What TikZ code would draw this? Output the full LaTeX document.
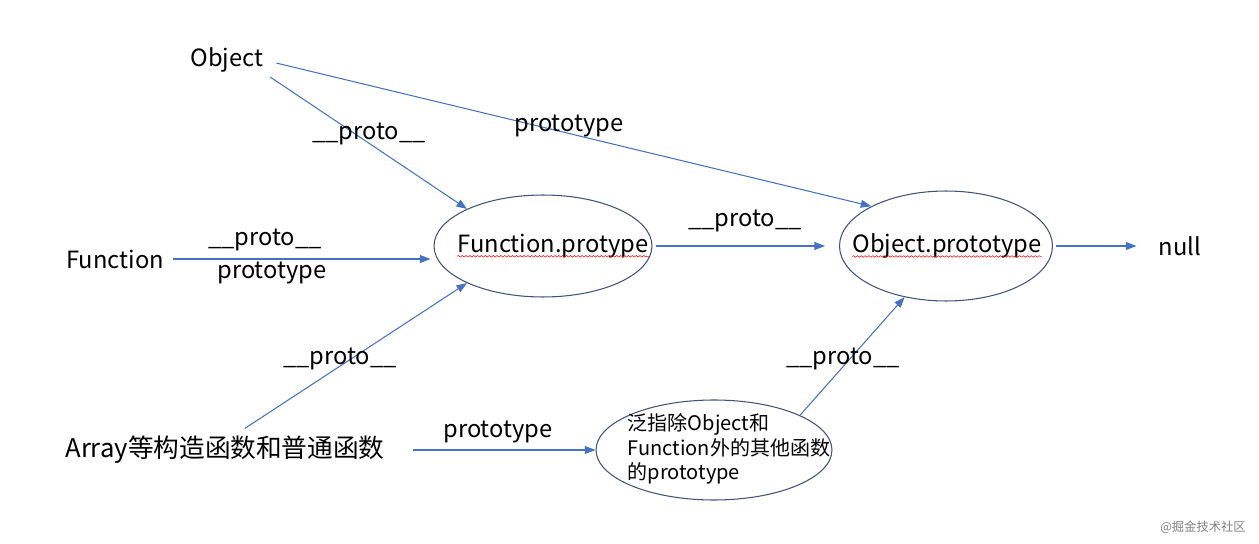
\documentclass[tikz,border=0pt]{standalone}
\usepackage{fontspec}
\setmainfont{Noto Sans CJK SC}
\usetikzlibrary{shapes.geometric,arrows.meta,decorations.pathmorphing}
\definecolor{linkblue}{HTML}{4472C4}
\definecolor{ringblue}{HTML}{3F5378}

\begin{document}
\begin{tikzpicture}[x=0.02cm, y=-0.02cm,
	word/.style={font=\fontsize{13.5}{16}\selectfont, inner sep=0pt},
	ring/.style={draw=ringblue, line width=0.6pt, ellipse, inner sep=0pt},
	link/.style={draw=linkblue, line width=0.6pt, -{Triangle[length=6pt,width=4.5pt]}},
	squiggle/.style={red, line width=0.3pt, decorate, decoration={snake, amplitude=0.45pt, segment length=2.2pt}}]
		\useasboundingbox (0,0) rectangle (1259,544);
		
		%constructors
		\node[word] (obj) at (227,60){Object};
		\node[word] (fn) at (115,259){Function};
		\node[word, font=\fontsize{14.6}{17}\selectfont] (arr) at (225,450){Array等构造函数和普通函数};
		\node[word] (null) at (1180,246){null};
		
		%prototype objects
		\node[ring, minimum width=4.36cm, minimum height=2.04cm] (fnproto) at (543,246){};
		\node[word] (fntext) at (553,246){Function.protype};
		\node[ring, minimum width=4.26cm, minimum height=2.2cm] (objproto) at (946,246){};
		\node[word] (objtext) at (947,246){Object.prototype};
		\node[ring, minimum width=4.72cm, minimum height=2cm] (other) at (714,450){};
		\node[word, font=\fontsize{11.4}{13.9}\selectfont, align=left] (othertext) at (729,449){泛指除Object和\\Function外的其他函数\\的prototype};
		
		%spell check underline
		\draw[squiggle] ([yshift=-2.2pt]fntext.base west) -- ([yshift=-2.2pt]fntext.base east);
		\draw[squiggle] ([yshift=-2.2pt]objtext.base west) -- ([yshift=-2.2pt]objtext.base east);
		
		%links
		\draw[link, shorten <=0.26cm] (obj.east) -- (objproto.152);
		\draw[link, shorten <=0.16cm] (obj.south east) -- (fnproto.154);
		\draw[link, shorten <=0.18cm, shorten >=0.06cm] (fn.east) -- (fn.east -| fnproto.west);
		\draw[link, shorten <=0.27cm] ([xshift=0.17cm]arr.north) -- (fnproto.206);
		\draw[link, shorten <=0.56cm] (arr.east) -- (other.west);
		\draw[link, shorten <=0.06cm, shorten >=0.28cm] (fnproto.east) -- (objproto.west);
		\draw[link, shorten <=0.06cm, shorten >=0.44cm] (objproto.east) -- (null.west);
		\draw[link] (other.22) -- (objproto.231);
		
		%link labels
		\node[word] (lab1) at (369,134){\_\_proto\_\_};
		\node[word] (lab2) at (569,126){prototype};
		\node[word] (lab3) at (265,240){\_\_proto\_\_};
		\node[word] (lab4) at (272,273){prototype};
		\node[word] (lab5) at (340,359){\_\_proto\_\_};
		\node[word] (lab6) at (745,221){\_\_proto\_\_};
		\node[word] (lab7) at (498,432){prototype};
		\node[word] (lab8) at (843,359){\_\_proto\_\_};
		
		%watermark
		\node[font=\fontsize{7}{8}\selectfont, text=gray] (mark) at (1203,527){@掘金技术社区};
		\end{tikzpicture}
\end{document}
